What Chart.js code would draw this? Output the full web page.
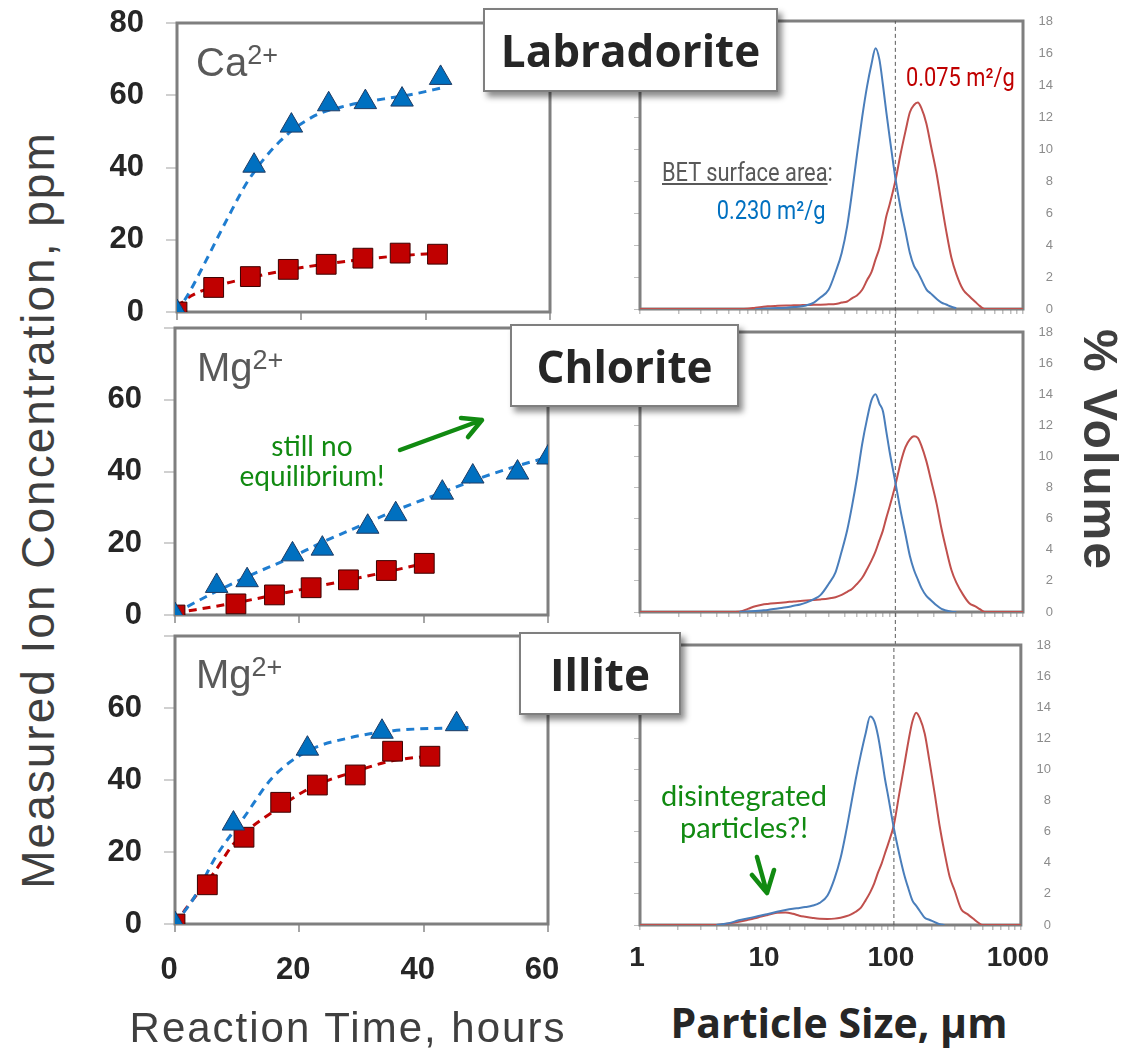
<!DOCTYPE html>
<html>
<head>
<meta charset="utf-8">
<title>Ion release and particle size</title>
<script src="https://cdn.jsdelivr.net/npm/chart.js@4.4.1/dist/chart.umd.min.js"></script>
<style>
  body { margin: 0; background: #fff; }
  #page { position: relative; width: 1130px; height: 1050px; overflow: hidden; font-family: "Liberation Sans", Arial, sans-serif; }
  .plot { position: absolute; z-index: 1; }
  .ion { position: absolute; z-index: 2; font-size: 40px; line-height: 40px; color: #595959; white-space: nowrap; }
  .ion span { font-size: 27px; line-height: 27px; vertical-align: top; }
  .tag { position: absolute; z-index: 3; box-sizing: border-box; background: #fff; border: 2px solid #7f7f7f;
         box-shadow: 4px 5px 6px rgba(0,0,0,0.45); display: flex; align-items: center; justify-content: center;
         font-family: "Open Sans", sans-serif; font-weight: 700; font-size: 44px; color: #262626; }
  .note { position: absolute; z-index: 2; font-family: Lato, sans-serif; color: #118a11; text-align: center; white-space: nowrap; transform: translateX(-50%); }
  .bet { position: absolute; z-index: 2; font-family: Roboto, sans-serif; font-size: 26px; line-height: 30px; white-space: nowrap; }
  .axt { position: absolute; z-index: 2; white-space: nowrap; color: #3f3f3f; }
  svg { position: absolute; left: 0; top: 0; z-index: 2; pointer-events: none; }
</style>
</head>
<body>
<div id="page">
  <div id="p1" class="plot"></div>
  <div id="p2" class="plot"></div>
  <div id="p3" class="plot"></div>
  <div id="r1" class="plot"></div>
  <div id="r2" class="plot"></div>
  <div id="r3" class="plot"></div>

  <div class="ion" style="left:196px;top:42px">Ca<span>2+</span></div>
  <div class="ion" style="left:197px;top:347px">Mg<span>2+</span></div>
  <div class="ion" style="left:196px;top:654px">Mg<span>2+</span></div>

  <div class="tag" style="left:483px;top:8px;width:295px;height:84px">Labradorite</div>
  <div class="tag" style="left:510px;top:324px;width:229px;height:83px">Chlorite</div>
  <div class="tag" style="left:519px;top:632px;width:162px;height:83px">Illite</div>

  <div class="note" style="left:312px;top:430px;font-size:28px;line-height:30px">still no<br>equilibrium!</div>
  <div class="note" style="left:744px;top:779px;font-size:29px;line-height:32px">disintegrated<br>particles?!</div>

  <div class="bet" style="left:662px;top:157px;color:#595959;transform:scaleX(0.84);transform-origin:left center"><u>BET surface area</u>:</div>
  <div class="bet" style="right:305px;top:195px;color:#0070c0;transform:scaleX(0.84);transform-origin:right center">0.230 m²/g</div>
  <div class="bet" style="left:906px;top:62px;color:#c00000;transform:scaleX(0.84);transform-origin:left center">0.075 m²/g</div>

  <div class="axt" style="left:38px;top:510px;font-size:46px;letter-spacing:2px;transform:translate(-50%,-50%) rotate(-90deg)">Measured Ion Concentration, ppm</div>
  <div class="axt" style="left:348px;top:1028px;font-size:42px;letter-spacing:2px;transform:translate(-50%,-50%)">Reaction Time, hours</div>
  <div class="axt" style="left:839px;top:1022px;font-size:41px;font-family:'Open Sans',sans-serif;font-weight:700;color:#262626;transform:translate(-50%,-50%)">Particle Size, µm</div>
  <div class="axt" style="left:1100px;top:450px;font-size:48px;letter-spacing:2px;font-weight:700;transform:translate(-50%,-50%) rotate(90deg)">% Volume</div>

  <svg width="1130" height="1050">
    <g stroke="#118a11" stroke-width="4.5" fill="none" stroke-linecap="round" stroke-linejoin="round">
      <path d="M400 450 L482 420 M461 418 L482 420 L468 437"/>
      <path d="M757 857 L767 893 M752 875 L767 893 L774 870"/>
    </g>
  </svg>
</div>

<script>
// Labradorite, Ca2+ (ppm vs hours)
var labTriT = [0, 12.4, 18.4, 24.4, 30.3, 36.2, 42.4];
var labTriC = [0, 40.5, 51.6, 57.5, 58.1, 58.8, 64.8];
var labSqT  = [0, 5.9, 11.8, 17.9, 24.0, 29.9, 35.9, 41.9];
var labSqC  = [0, 6.8, 9.8, 11.8, 13.2, 14.9, 16.3, 16.0];
var labTriFitT = [0, 2, 4.6, 8, 11.5, 16.7, 21.8, 27, 33.3, 38, 43];
var labTriFitC = [0, 5.5, 14, 25.5, 36.5, 47.5, 54, 57, 59, 60.3, 62.2];
var labSqFitT  = [0, 2.3, 6, 12, 18, 24, 30, 36, 42];
var labSqFitC  = [1.5, 4.5, 7, 9.6, 11.7, 13.3, 14.6, 15.6, 16.3];

// Chlorite, Mg2+
var chlTriT = [0, 6.7, 11.6, 18.9, 23.7, 31.0, 35.5, 43.0, 47.9, 55.1, 60.0];
var chlTriC = [0, 8.1, 9.7, 16.9, 18.5, 24.6, 28.1, 34.1, 38.6, 39.7, 43.9];
var chlSqT  = [0, 9.8, 16.0, 21.9, 27.9, 34.0, 40.1];
var chlSqC  = [0, 3.1, 5.6, 7.6, 9.8, 12.4, 14.4];
var chlTriFitT = [0, 6, 12, 18, 24, 30, 36, 42, 48, 54, 60];
var chlTriFitC = [0.5, 6, 11, 15.5, 20.5, 25, 29.5, 33.5, 37.5, 41, 44];
var chlSqFitT  = [0, 10, 20, 30, 40];
var chlSqFitC  = [0.5, 3.5, 7, 10.5, 14.3];

// Illite, Mg2+
var illTriT = [0, 9.4, 21.3, 33.3, 45.3];
var illTriC = [0, 27.9, 48.7, 53.4, 55.5];
var illSqT  = [0, 5.2, 11.1, 17.0, 22.9, 29.0, 35.0, 41.0];
var illSqC  = [0, 10.9, 24.1, 33.8, 38.6, 41.4, 48.0, 46.6];
var illTriFitT = [0, 3.1, 6.5, 11.1, 15.7, 21.4, 28.3, 35.1, 47.2];
var illTriFitC = [0, 7.4, 18.5, 29.6, 40.7, 48.1, 51.8, 53.7, 54.6];
var illSqFitT  = [0, 1.9, 6.5, 9.4, 16.8, 22, 29.4, 35.1, 42];
var illSqFitC  = [0, 4.6, 14.8, 22.2, 32.4, 38, 42.6, 45.4, 46.8];

var timeTicks = [0, 20, 40, 60];
var concTicks = [0, 20, 40, 60, 80];

// particle size distributions (% volume vs size, um)
var sizes = [1, 4, 5, 6, 7, 8, 9, 10, 12, 14, 16, 18, 20, 23, 26, 30, 34, 38, 42, 46, 50, 55, 60, 65, 70, 75, 80, 85, 90,
             100, 110, 120, 130, 140, 150, 160, 175, 190, 210, 230, 250, 275, 300, 340, 380, 420, 460, 500, 1000];
var labBlueVol = [null, null, null, null, null, 0, 0.02, 0.03, 0.06, 0.08, 0.12, 0.15, 0.22, 0.4, 0.73, 1.2, 2.3, 3.5, 5.2, 7.4, 9.6, 12.0, 13.9, 15.3, 16.3, 15.6, 14.0, 12.3, 10.8,
                  8.2, 6.3, 4.85, 3.5, 2.7, 2.3, 1.85, 1.23, 0.96, 0.64, 0.4, 0.28, 0.14, 0.05, null, null, null, null, null, null];
var labRedVol  = [0, 0, 0, 0, 0.02, 0.08, 0.13, 0.17, 0.2, 0.22, 0.23, 0.24, 0.25, 0.26, 0.27, 0.29, 0.31, 0.4, 0.47, 0.68, 0.84, 1.2, 1.8, 2.3, 3.1, 3.8, 4.75, 5.8, 6.5,
                  8.0, 9.7, 11.1, 12.3, 12.75, 12.9, 12.55, 11.6, 10.2, 8.5, 6.6, 4.9, 3.2, 2.2, 1.2, 0.8, 0.47, 0.18, 0, 0];
var chlBlueVol = [null, null, null, 0, 0.04, 0.07, 0.1, 0.13, 0.23, 0.3, 0.4, 0.48, 0.6, 0.82, 1.1, 1.8, 2.55, 3.9, 5.27, 6.9, 8.6, 10.8, 12.4, 13.6, 14.0, 13.4, 12.9, 11.6, 10.35,
                  8.35, 6.5, 5.0, 3.6, 2.7, 2.1, 1.55, 1.03, 0.76, 0.43, 0.2, 0.1, 0.02, 0, null, null, null, null, null, null];
var chlRedVol  = [0, 0, 0, 0.02, 0.2, 0.37, 0.47, 0.52, 0.58, 0.63, 0.68, 0.71, 0.74, 0.77, 0.81, 0.87, 0.95, 1.1, 1.3, 1.5, 1.8, 2.2, 2.75, 3.3, 3.9, 4.6, 5.25, 6.05, 6.75,
                  8.15, 9.6, 10.6, 11.1, 11.3, 11.2, 10.7, 9.7, 8.5, 7.0, 5.35, 4.05, 2.7, 1.9, 1.1, 0.56, 0.38, 0.18, 0, 0];
var illBlueVol = [null, 0, 0.12, 0.3, 0.42, 0.52, 0.61, 0.69, 0.85, 0.97, 1.05, 1.1, 1.15, 1.25, 1.42, 1.9, 2.97, 4.3, 6.0, 7.75, 9.35, 11.0, 12.35, 13.4, 13.1, 12.15, 10.8, 9.4, 8.3,
                  6.2, 4.6, 3.3, 2.35, 1.57, 1.23, 0.9, 0.46, 0.34, 0.18, 0.05, 0, null, null, null, null, null, null, null, null];
var illRedVol  = [0, 0, 0.1, 0.2, 0.32, 0.43, 0.54, 0.63, 0.78, 0.8, 0.72, 0.6, 0.53, 0.45, 0.4, 0.39, 0.41, 0.47, 0.56, 0.68, 0.85, 1.12, 1.6, 2.1, 2.68, 3.38, 3.95, 4.6, 5.2,
                  6.45, 8.4, 10.15, 11.8, 13.1, 13.65, 13.3, 12.3, 10.6, 8.4, 6.3, 4.7, 3.1, 2.25, 1.0, 0.7, 0.42, 0.16, 0, 0];

var sizeLabels = [1, 10, 100, 1000];
var refSize = 100;

function pts(xs, ys) {
  var out = [];
  for (var i = 0; i < xs.length; i++) {
    if (ys[i] !== null) out.push({x: xs[i], y: ys[i]});
  }
  return out;
}

var framePlugin = {
  id: 'frame',
  beforeDatasetsDraw: function(chart) {
    var a = chart.chartArea, c = chart.ctx;
    c.save();
    c.strokeStyle = '#7f7f7f';
    c.lineWidth = 3;
    c.strokeRect(a.left, a.top, a.right - a.left, a.bottom - a.top);
    c.restore();
  }
};

function makeCanvas(id, left, top, w, h) {
  var div = document.getElementById(id);
  div.style.left = left + 'px';
  div.style.top = top + 'px';
  var cv = document.createElement('canvas');
  cv.width = w; cv.height = h;
  cv.style.width = w + 'px'; cv.style.height = h + 'px';
  div.appendChild(cv);
  return cv.getContext('2d');
}

// tick padding is added to the label overflow by Chart.js, so the outer padding is kept generous
function timeChart(id, area, d, showX, showTop) {
  var AW = 95, PR = 45, PT = 46, PB = showX ? 4 : 46, AH = showX ? 70 : 10;
  var left = area.l - AW, top = area.t - PT;
  var w = area.r + PR - left, h = area.b + AH + PB - top;
  var ctx = makeCanvas(id, left, top, w, h);
  var fitLine = {showLine: true, pointRadius: 0, borderWidth: 3, borderDash: [8, 6], cubicInterpolationMode: 'monotone'};
  new Chart(ctx, {
    type: 'scatter',
    data: {
      datasets: [
        {data: pts(d.triT, d.triC), pointStyle: 'triangle', pointRadius: 13, backgroundColor: '#0070c0', borderColor: '#1f3b63', borderWidth: 1, order: 0},
        {data: pts(d.sqT, d.sqC), pointStyle: 'rect', pointRadius: 14, backgroundColor: '#c00000', borderColor: '#3b0000', borderWidth: 1, order: 1},
        Object.assign({data: pts(d.triFitT, d.triFitC), borderColor: '#1f7dd0', order: 2}, fitLine),
        Object.assign({data: pts(d.sqFitT, d.sqFitC), borderColor: '#c00000', order: 3}, fitLine)
      ]
    },
    options: {
      responsive: false, animation: false,
      layout: {autoPadding: false, padding: {left: 0, right: PR, top: PT, bottom: PB}},
      plugins: {legend: {display: false}, tooltip: {enabled: false}},
      scales: {
        x: {
          type: 'linear', min: timeTicks[0], max: timeTicks[timeTicks.length - 1],
          afterFit: function(s) { s.height = AH; },
          afterBuildTicks: function(s) { s.ticks = timeTicks.map(function(v) { return {value: v}; }); },
          border: {display: false},
          grid: {drawOnChartArea: false, tickLength: 8, color: '#a6a6a6', lineWidth: 2},
          ticks: {display: showX, padding: 20, labelOffset: -6, color: '#262626', font: {family: 'Liberation Sans', weight: 'bold', size: 31}}
        },
        y: {
          min: concTicks[0], max: concTicks[concTicks.length - 1],
          afterFit: function(s) { s.width = AW; },
          afterBuildTicks: function(s) { s.ticks = concTicks.map(function(v) { return {value: v}; }); },
          border: {display: false},
          grid: {drawOnChartArea: false, tickLength: 11, color: '#d0d0d0', lineWidth: 2},
          ticks: {
            padding: 22, color: '#262626', font: {family: 'Liberation Sans', weight: 'bold', size: 31},
            callback: function(v) { return (v === 80 && !showTop) ? '' : String(v); }
          }
        }
      }
    },
    plugins: [framePlugin]
  });
}

function sizeChart(id, area, blue, red, showX, guideFrom) {
  var PL = 30, AWL = 8, AWR = 30, PR = 10, PT = 14, PB = showX ? 4 : 30, AH = showX ? 55 : 6;
  var left = area.l - AWL - PL, top = area.t - PT;
  var w = area.r + AWR + PR - left, h = area.b + AH + PB - top;
  var ctx = makeCanvas(id, left, top, w, h);
  var curve = {showLine: true, pointRadius: 0, borderWidth: 2, cubicInterpolationMode: 'monotone'};
  new Chart(ctx, {
    type: 'scatter',
    data: {
      datasets: [
        Object.assign({data: pts(sizes, blue), borderColor: '#4a7ebb'}, curve),
        Object.assign({data: pts(sizes, red), borderColor: '#c0504d'}, curve),
        {data: [{x: refSize, y: guideFrom}, {x: refSize, y: 18}], showLine: true, pointRadius: 0, borderWidth: 1,
         borderColor: '#595959', borderDash: [4, 3], clip: false}
      ]
    },
    options: {
      responsive: false, animation: false,
      layout: {autoPadding: false, padding: {left: PL, right: PR, top: PT, bottom: PB}},
      plugins: {legend: {display: false}, tooltip: {enabled: false}},
      scales: {
        x: {
          type: 'logarithmic', min: 1, max: 1000,
          afterFit: function(s) { s.height = AH; },
          border: {display: false},
          grid: {drawOnChartArea: false, tickLength: 5, color: '#bfbfbf', lineWidth: 1.5},
          ticks: {
            display: showX, autoSkip: false, maxRotation: 0, padding: 11, labelOffset: -3, color: '#262626',
            font: {family: 'Liberation Sans', weight: 'bold', size: 28},
            callback: function(v) { return sizeLabels.indexOf(v) >= 0 ? String(v) : ''; }
          }
        },
        y: {
          position: 'right', min: 0, max: 18,
          afterFit: function(s) { s.width = AWR; },
          border: {display: false},
          grid: {drawOnChartArea: false, drawTicks: false},
          ticks: {stepSize: 2, crossAlign: 'far', color: '#8c8c8c', font: {size: 13}}
        },
        yl: {
          position: 'left', min: 0, max: 18,
          afterFit: function(s) { s.width = AWL; },
          border: {display: false},
          grid: {drawOnChartArea: false, tickLength: 6, color: '#bfbfbf'},
          ticks: {display: false, stepSize: 2}
        }
      }
    },
    plugins: [framePlugin]
  });
}

timeChart('p1', {l: 177, r: 550, t: 23, b: 312},
  {triT: labTriT, triC: labTriC, sqT: labSqT, sqC: labSqC, triFitT: labTriFitT, triFitC: labTriFitC, sqFitT: labSqFitT, sqFitC: labSqFitC}, false, true);
timeChart('p2', {l: 175, r: 548, t: 328, b: 615},
  {triT: chlTriT, triC: chlTriC, sqT: chlSqT, sqC: chlSqC, triFitT: chlTriFitT, triFitC: chlTriFitC, sqFitT: chlSqFitT, sqFitC: chlSqFitC}, false, false);
timeChart('p3', {l: 175, r: 548, t: 636, b: 924},
  {triT: illTriT, triC: illTriC, sqT: illSqT, sqC: illSqC, triFitT: illTriFitT, triFitC: illTriFitC, sqFitT: illSqFitT, sqFitC: illSqFitC}, true, false);

sizeChart('r1', {l: 640, r: 1023, t: 21, b: 309}, labBlueVol, labRedVol, false, -1.43);
sizeChart('r2', {l: 640, r: 1023, t: 332, b: 612}, chlBlueVol, chlRedVol, false, -2.12);
sizeChart('r3', {l: 640, r: 1023, t: 645, b: 925}, illBlueVol, illRedVol, true, 0);
</script>
</body>
</html>
